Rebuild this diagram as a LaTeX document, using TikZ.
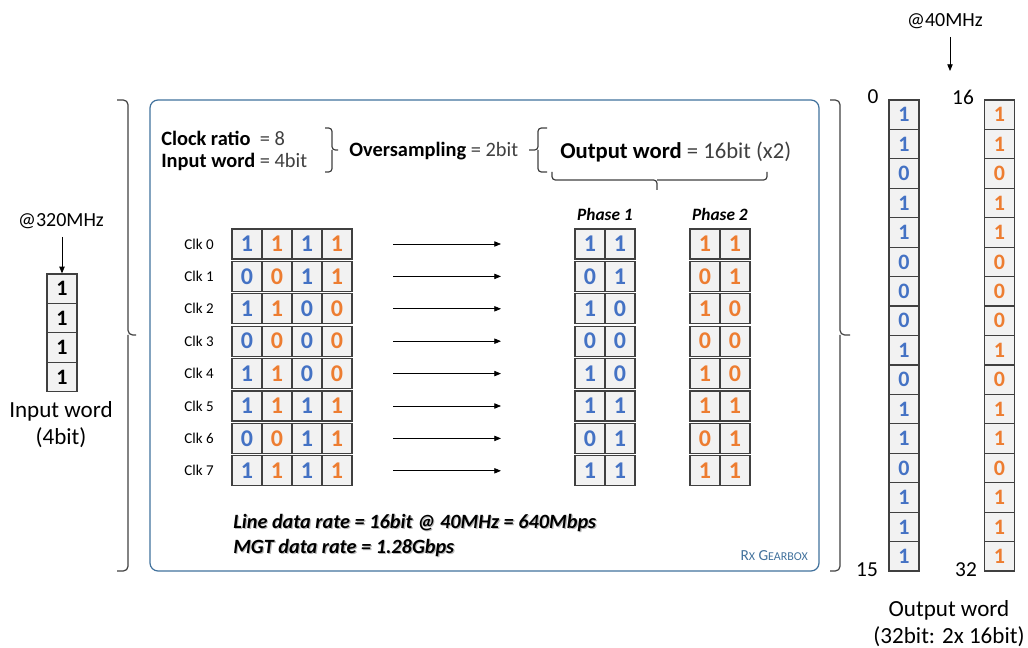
\documentclass[tikz,border=0pt]{standalone}
\usepackage{fontspec}
\setmainfont{Carlito}
\usetikzlibrary{arrows.meta}
\definecolor{bitblue}{HTML}{4472C4}
\definecolor{bitorange}{HTML}{ED7D31}
\definecolor{cellfill}{HTML}{F2F2F2}
\definecolor{celledge}{HTML}{404040}
\definecolor{boxblue}{HTML}{41719C}
\definecolor{txtgray}{HTML}{404040}
\begin{document}
\begin{tikzpicture}[x=0.75pt,y=-0.75pt,
  cell/.style={draw=celledge,line width=0.9pt,fill=cellfill,minimum width=22.5pt,minimum height=22.5pt,inner sep=0pt,font=\fontsize{18}{18}\selectfont\bfseries},
  ocell/.style={cell,minimum height=22.1pt,font=\fontsize{16.5}{16.5}\selectfont\bfseries},
  bracepath/.style={draw=celledge,line width=0.9pt,rounded corners=2.5pt},
  arr/.style={-{Triangle[length=5pt,width=4pt]},line width=0.6pt},
  clk/.style={font=\fontsize{11.25}{12}\selectfont,text=black},
  head/.style={font=\fontsize{15.3}{16}\selectfont,anchor=west,inner sep=0pt},
  phase/.style={font=\fontsize{13}{14}\selectfont\itshape\bfseries},
  rate/.style={font=\fontsize{15.2}{16}\selectfont\bfseries\itshape,anchor=west,inner sep=0pt},
  lbl/.style={font=\fontsize{17.3}{18}\selectfont,text=black},
  idx/.style={font=\fontsize{16}{18}\selectfont,text=black}]
\useasboundingbox (0,0) rectangle (1028,648);

% main gearbox frame
\node[draw=boxblue,rounded corners=6pt,line width=0.9pt,minimum width=501.75pt,minimum height=353.25pt,inner sep=0pt] (gearbox) at (484.5,335.5) {};
\node[anchor=east,text=boxblue,inner sep=0pt] (rxlabel) at (808,556) {\fontsize{11.5}{12}\selectfont R{\fontsize{9}{9}\selectfont X} G{\fontsize{9}{9}\selectfont EARBOX}};

% header texts
\node[head] (ratio) at (161,138) {\textbf{Clock ratio}\ \ \textcolor{txtgray}{= 8}};
\node[head] (inword) at (161,162) {\textbf{Input word} \textcolor{txtgray}{= 4bit}};
\node[head] (overs) at (349,151) {\textbf{Oversampling} \textcolor{txtgray}{= 2bit}};
\node[head,font=\fontsize{17}{19}\selectfont] (outw) at (560,152) {\textbf{Output word} \textcolor{txtgray}{= 16bit (x2)}};

% small braces
\draw[bracepath] (325,128) -- (332,128) -- (332,150) -- (338,150);
\draw[bracepath] (325,172) -- (332,172) -- (332,150);
\draw[bracepath] (547,128) -- (538,128) -- (538,150) -- (529,150);
\draw[bracepath] (547,172) -- (538,172) -- (538,150);
\draw[bracepath] (552,172) -- (552,180) -- (657,180) -- (657,190);
\draw[bracepath] (767,172) -- (767,180) -- (657,180);

% big braces
\draw[bracepath,rounded corners=3.5pt] (117,100) -- (128,100) -- (128,335) -- (136,335);
\draw[bracepath,rounded corners=3.5pt] (117,571) -- (128,571) -- (128,335);
\draw[bracepath,rounded corners=3.5pt] (830,100) -- (840,100) -- (840,335) -- (850,335);
\draw[bracepath,rounded corners=3.5pt] (830,571) -- (840,571) -- (840,335);

% phase labels
\node[phase] (ph1) at (605,214) {Phase 1};
\node[phase] (ph2) at (720,214) {Phase 2};

% clock rows
\foreach \a/\b/\c/\d [count=\n from 0] in {1/1/1/1,0/0/1/1,1/1/0/0,0/0/0/0,1/1/0/0,1/1/1/1,0/0/1/1,1/1/1/1}{
  \pgfmathsetmacro{\ry}{244+32.4*\n}
  \node[clk] (clk\n) at (199,\ry) {Clk \n};
  \node[cell,text=bitblue] (g\n-0) at (247,\ry) {\a};
  \node[cell,text=bitorange] (g\n-1) at (277,\ry) {\b};
  \node[cell,text=bitblue] (g\n-2) at (307,\ry) {\c};
  \node[cell,text=bitorange] (g\n-3) at (337,\ry) {\d};
  \coordinate (as\n) at (393,\ry);
  \coordinate (ae\n) at (501,\ry);
  \draw[arr] (as\n) -- (ae\n);
  \node[cell,text=bitblue] (pa\n-0) at (590,\ry) {\a};
  \node[cell,text=bitblue] (pa\n-1) at (620,\ry) {\c};
  \node[cell,text=bitorange] (pb\n-0) at (705,\ry) {\b};
  \node[cell,text=bitorange] (pb\n-1) at (735,\ry) {\d};
}

% rate text (with shadow)
\node[rate,text=gray!55] at (234.2,524.2) {Line data rate = 16bit @ 40MHz = 640Mbps};
\node[rate,text=gray!55] at (234.2,549.2) {MGT data rate = 1.28Gbps};
\node[rate] (line) at (233,523) {Line data rate = 16bit @ 40MHz = 640Mbps};
\node[rate] (mgt) at (233,548) {MGT data rate = 1.28Gbps};

% input word
\node[lbl,font=\fontsize{15}{16}\selectfont] (f320) at (61,221) {@320MHz};
\foreach \k in {0,1,2,3}{
  \node[ocell,text=black] (in\k) at (62,{274+29.4*(\k+0.5)}) {1};
}
\coordinate (a320) at (62,237);
\draw[arr] (a320) -- (in0.north);
\node[lbl] (inlbl) at (61,411) {Input word};
\node[lbl] (inlbl2) at (61,438) {(4bit)};

% output word
\node[lbl,font=\fontsize{15}{16}\selectfont] (f40) at (945,21) {@40MHz};
\coordinate (a40s) at (950,37);
\coordinate (a40e) at (950,71);
\draw[arr] (a40s) -- (a40e);
\foreach \v [count=\k from 0] in {1,1,0,1,1,0,0,0,1,0,1,1,0,1,1,1}{
  \node[ocell,text=bitblue] (oa\k) at (904,{100+29.44*(\k+0.5)}) {\v};
  \node[ocell,text=bitorange] (ob\k) at (999.5,{100+29.44*(\k+0.5)}) {\v};
}
\node[idx] (i0) at (873,97) {0};
\node[idx] (i16) at (963,97) {16};
\node[idx] (i15) at (867,570) {15};
\node[idx] (i32) at (966,570) {32};
\node[lbl] (outlbl) at (949,610) {Output word};
\node[lbl] (outlbl2) at (949,637) {(32bit: 2x 16bit)};
\end{tikzpicture}
\end{document}
